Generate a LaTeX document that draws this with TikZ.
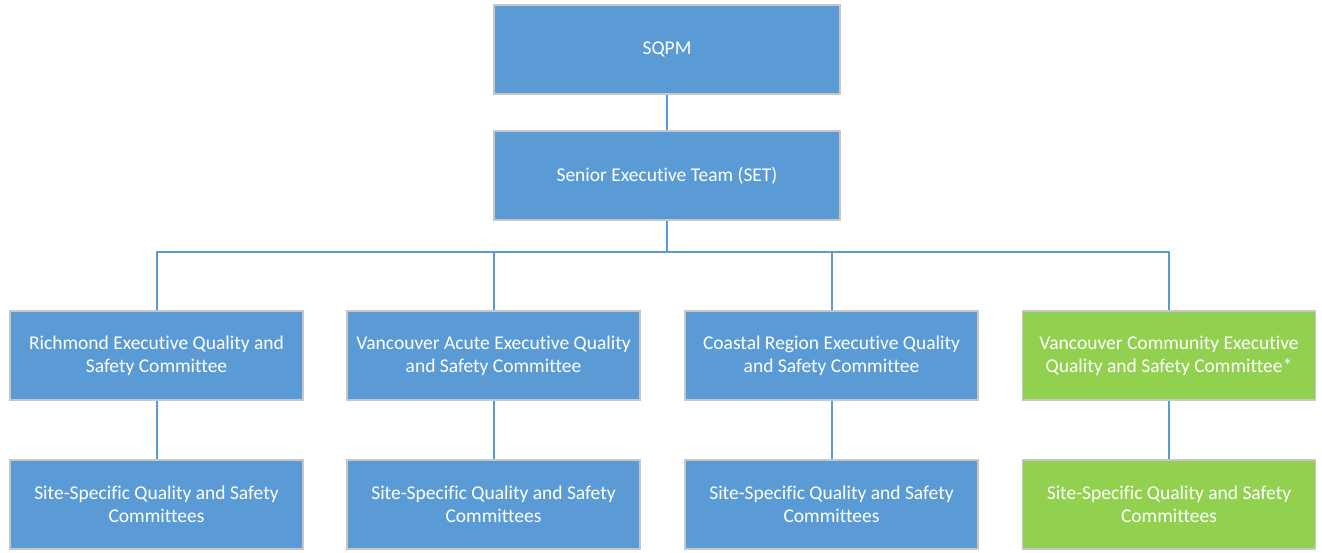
\documentclass[tikz,border=0pt]{standalone}
\usepackage{fontspec}
\setmainfont{Carlito}[Ligatures={NoCommon}]
\begin{document}
\begin{tikzpicture}[x=1pt,y=-1pt,
  box/.style={draw=black!22, line width=1.2pt, fill=#1, text=white, minimum width=293pt, minimum height=89pt, align=center, inner sep=0pt, font=\fontsize{19.5}{23}\selectfont},
  box/.default=blueF,
  link/.style={draw=lineB, line width=2pt}]
\definecolor{blueF}{HTML}{5B9BD5}
\definecolor{greenF}{HTML}{92D050}
\definecolor{lineB}{HTML}{5B9BD5}
\useasboundingbox (0,0) rectangle (1322,552);
\node[box, minimum width=346pt] (sqpm) at (667,49.5) {SQPM};
\node[box, minimum width=346pt] (set) at (667,175.5) {Senior Executive Team (SET)};
\node[box] (r1) at (156.5,355.5) {Richmond Executive Quality and\\Safety Committee};
\node[box] (r2) at (493.5,355.5) {Vancouver Acute Executive Quality\\and Safety Committee};
\node[box] (r3) at (831.5,355.5) {Coastal Region Executive Quality\\and Safety Committee};
\node[box=greenF] (r4) at (1169,355.5) {Vancouver Community Executive\\Quality and Safety Committee*};
\node[box] (s1) at (156.5,504.5) {Site-Specific Quality and Safety\\Committees};
\node[box] (s2) at (493.5,504.5) {Site-Specific Quality and Safety\\Committees};
\node[box] (s3) at (831.5,504.5) {Site-Specific Quality and Safety\\Committees};
\node[box=greenF] (s4) at (1169,504.5) {Site-Specific Quality and Safety\\Committees};
\coordinate (bus) at (0,252);
\draw[link] (sqpm.south) -- (set.north);
\draw[link] (set.south) -- (set.south |- bus);
\draw[link] (r1.north) -- (r1.north |- bus) -- (r4.north |- bus) -- (r4.north);
\draw[link] (r2.north) -- (r2.north |- bus);
\draw[link] (r3.north) -- (r3.north |- bus);
\foreach \i in {1,2,3,4} \draw[link] (r\i.south) -- (s\i.north);
\end{tikzpicture}
\end{document}
